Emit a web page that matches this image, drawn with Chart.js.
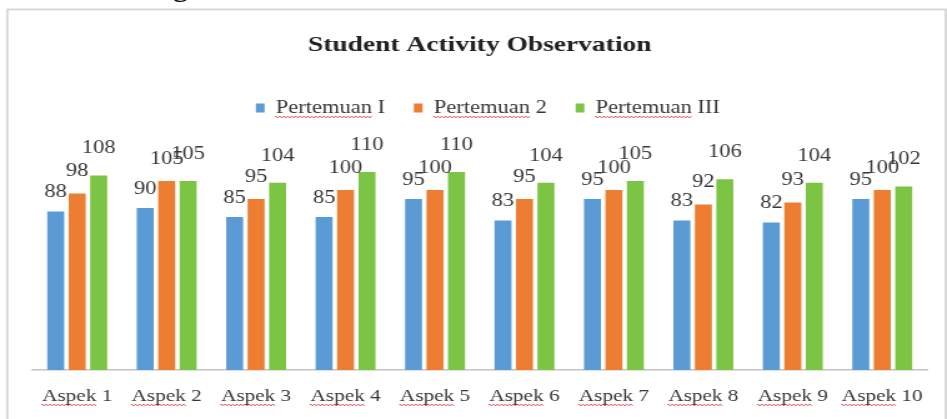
<!DOCTYPE html>
<html>
<head>
<meta charset="utf-8">
<script src="https://cdn.jsdelivr.net/npm/chart.js@4/dist/chart.umd.min.js"></script>
<style>
  html, body { margin: 0; padding: 0; background: #fff; overflow: hidden; }
  #page { position: relative; width: 947px; height: 419px; overflow: hidden; background: #fff; }
  #frag { position: absolute; left: 172px; top: -33px; font: 34px "Liberation Serif", serif; line-height: 34px; color: #111; }
  #stretch { position: absolute; left: 0; top: 0; width: 758px; height: 419px; transform: scaleX(1.2493); transform-origin: 0 0; }
  #c { display: block; width: 758px; height: 419px; }
</style>
</head>
<body>
<div id="page">
  <div id="frag">g</div>
  <div id="stretch"><canvas id="c" width="758" height="419"></canvas></div>
</div>
<script>
// Observation scores per aspect, one array per meeting
const categories = ['Aspek 1', 'Aspek 2', 'Aspek 3', 'Aspek 4', 'Aspek 5',
                    'Aspek 6', 'Aspek 7', 'Aspek 8', 'Aspek 9', 'Aspek 10'];
const seriesNames = ['Pertemuan I', 'Pertemuan 2', 'Pertemuan III'];
const pertemuan1 = [88, 90, 85, 85, 95, 83, 95, 83, 82, 95];
const pertemuan2 = [98, 105, 95, 100, 100, 95, 100, 92, 93, 100];
const pertemuan3 = [108, 105, 104, 110, 110, 104, 105, 106, 104, 102];

const colors = ['#5B9BD5', '#ED7D31', '#7CC443'];
const serif = '"Liberation Serif", serif';
const labelGap = [10, 13, 18];   // distance of each series' value text above its bar

// zig-zag underline like a spell-checker mark
function squiggle(ctx, x0, x1, y) {
  ctx.beginPath();
  let up = true;
  ctx.moveTo(x0, y);
  for (let x = x0; x <= x1; x += 1.6) {
    ctx.lineTo(x, y + (up ? -0.9 : 0.9));
    up = !up;
  }
  ctx.stroke();
}

const framePlugin = {
  id: 'frame',
  beforeDraw(chart) {
    const ctx = chart.ctx;
    ctx.save();
    ctx.strokeStyle = '#d6d6d6';
    ctx.lineWidth = 1.8;
    ctx.strokeRect(5.8, 9.5, 751.2, 600);
    ctx.restore();
  }
};

// nudge the legend row a little to the right of the plot centre
// (hit boxes are rebuilt from these edges by the legend's own afterUpdate)
const legendNudge = {
  id: 'legendNudge',
  afterLayout(chart) {
    const lg = chart.legend;
    lg.left += 6.5;
    lg.right += 6.5;
  }
};

const valueLabelPlugin = {
  id: 'valueLabels',
  afterDatasetsDraw(chart) {
    const ctx = chart.ctx;
    ctx.save();
    ctx.font = 'normal 18px ' + serif;
    ctx.fillStyle = '#363636';
    ctx.textAlign = 'center';
    ctx.textBaseline = 'bottom';
    chart.data.datasets.forEach((ds, i) => {
      chart.getDatasetMeta(i).data.forEach((bar, j) => {
        ctx.fillText(String(ds.data[j]), bar.x, bar.y - labelGap[i]);
      });
    });
    ctx.restore();
  }
};

const underlinePlugin = {
  id: 'spellMarks',
  afterDraw(chart) {
    const ctx = chart.ctx;
    ctx.save();
    ctx.strokeStyle = 'rgba(220,40,50,0.8)';
    ctx.lineWidth = 1;
    // category labels: mark the word "Aspek"
    const xs = chart.scales.x;
    ctx.font = 'normal 17px ' + serif;
    const tickTop = xs.top + xs.options.ticks.padding;
    categories.forEach((label, i) => {
      const cx = xs.getPixelForTick(i);
      const total = ctx.measureText(label).width;
      const word = ctx.measureText(label.split(' ')[0]).width;
      squiggle(ctx, cx - total / 2, cx - total / 2 + word, tickTop + 19);
    });
    // legend entries: mark the word "Pertemuan"
    const lg = chart.legend;
    const lOpts = lg.options.labels;
    ctx.font = 'normal ' + lOpts.font.size + 'px ' + serif;
    lg.legendHitBoxes.forEach((hb, i) => {
      const tx = hb.left + lOpts.boxWidth + lOpts.font.size / 2;
      const word = ctx.measureText(seriesNames[i].split(' ')[0]).width;
      squiggle(ctx, tx, tx + word, hb.top + hb.height / 2 + 9);
    });
    ctx.restore();
  }
};

new Chart(document.getElementById('c'), {
  type: 'bar',
  data: {
    labels: categories,
    datasets: [pertemuan1, pertemuan2, pertemuan3].map((vals, i) => ({
      label: seriesNames[i],
      data: vals,
      backgroundColor: colors[i],
      borderWidth: 0,
      categoryPercentage: 0.72,
      barPercentage: 0.79
    }))
  },
  options: {
    responsive: false,
    animation: false,
    devicePixelRatio: 1,
    layout: { padding: { left: 26, right: 16, top: 0, bottom: 12 } },
    plugins: {
      title: {
        display: true,
        text: 'Student Activity Observation',
        color: '#222222',
        font: { family: serif, size: 22, weight: 'bold' },
        padding: { top: 32, bottom: 17.6 }
      },
      legend: {
        display: true,
        position: 'top',
        labels: {
          color: '#363636',
          font: { family: serif, size: 18 },
          boxWidth: 7,
          boxHeight: 9,
          padding: 23
        }
      },
      tooltip: { enabled: false }
    },
    scales: {
      x: {
        grid: { display: false, drawTicks: false },
        border: { display: true, color: '#c4c4c4', width: 1.5 },
        ticks: {
          color: '#363636',
          font: { family: serif, size: 17 },
          padding: 16,
          maxRotation: 0,
          autoSkip: false
        },
        afterFit(scale) { scale.height = 37; }
      },
      y: {
        display: false,
        min: 0,
        max: 135
      }
    }
  },
  plugins: [framePlugin, legendNudge, valueLabelPlugin, underlinePlugin]
});
</script>
</body>
</html>
